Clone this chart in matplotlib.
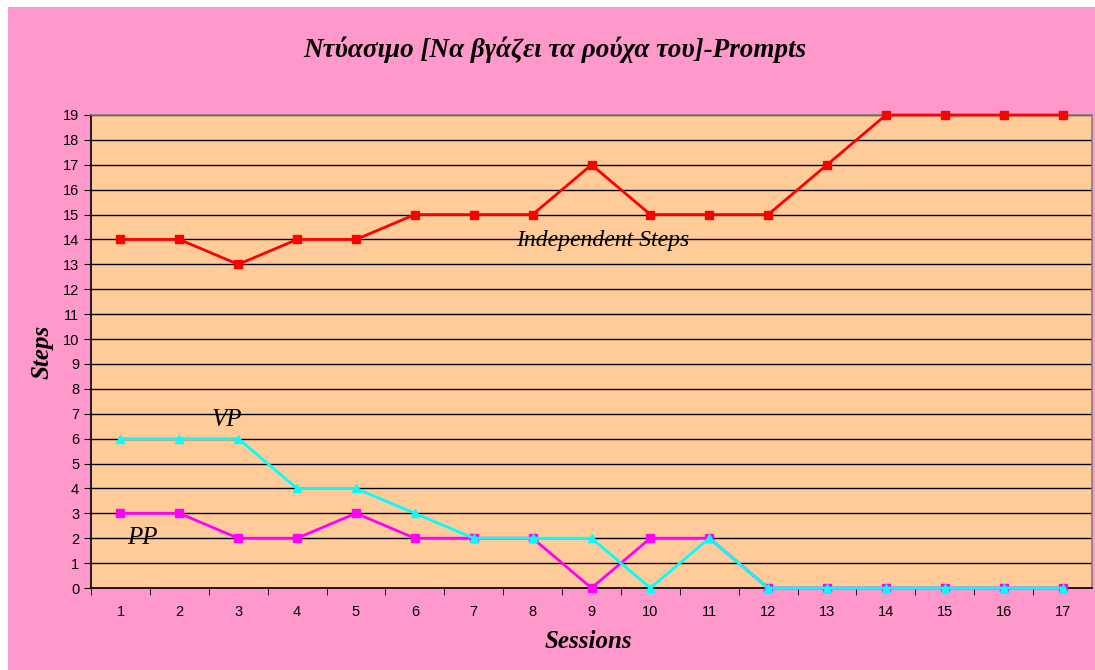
import matplotlib.pyplot as plt
from matplotlib.patches import Rectangle

sessions = list(range(1, 18))
independent = [14, 14, 13, 14, 14, 15, 15, 15, 17, 15, 15, 15, 17, 19, 19, 19, 19]
pp = [3, 3, 2, 2, 3, 2, 2, 2, 0, 2, 2, 0, 0, 0, 0, 0, 0]
vp = [6, 6, 6, 4, 4, 3, 2, 2, 2, 0, 2, 0, 0, 0, 0, 0, 0]

pink = '#FF99CC'
peach = '#FFCC99'

fig = plt.figure(figsize=(10.95, 6.70), dpi=100, facecolor='white')
fig.patches.append(Rectangle((8 / 1095, 0), 1, 1 - 7 / 670, transform=fig.transFigure,
                             facecolor=pink, edgecolor='none', zorder=-5))

ax = fig.add_axes([91 / 1095, 1 - 588 / 670, (1092 - 91) / 1095, (588 - 115) / 670])
ax.set_facecolor(peach)

ax.plot(sessions, independent, color='#FF0000', lw=2, marker='s', ms=6, zorder=3, clip_on=False)
ax.plot(sessions, pp, color='#FF00FF', lw=2, marker='s', ms=6, zorder=3, clip_on=False)
ax.plot(sessions, vp, color='#00FFFF', lw=2, marker='^', ms=6, zorder=4, clip_on=False)

ax.set_xlim(0.5, 17.5)
ax.set_ylim(0, 19)
ax.set_yticks(range(0, 20))
ax.set_xticks(sessions)
ax.set_xticks([i + 0.5 for i in range(0, 17)], minor=True)
ax.tick_params(axis='x', which='major', length=0, pad=12, labelsize=10.5)
ax.tick_params(axis='x', which='minor', length=5, direction='out', color='black')
ax.tick_params(axis='y', length=5, direction='out', labelsize=10.5)
for lab in ax.get_xticklabels() + ax.get_yticklabels():
    lab.set_fontfamily('Liberation Sans')

ax.grid(axis='y', color='black', lw=1)
ax.set_axisbelow(True)
ax.spines['left'].set_color('black')
ax.spines['bottom'].set_color('black')
ax.spines['top'].set_color('#808080')
ax.spines['right'].set_color('#808080')
for s in ax.spines.values():
    s.set_linewidth(1.2)

serif = 'Liberation Serif'
fig.text(555 / 1095, 1 - 50 / 670, 'Ντύασιμο [Να βγάζει τα ρούχα του]-Prompts',
         ha='center', va='center', fontsize=19.5, fontweight='bold', style='italic', family=serif)
fig.text(42 / 1095, 1 - 352 / 670, 'Steps', rotation=90, ha='center', va='center',
         fontsize=18, fontweight='bold', style='italic', family=serif)
fig.text(588 / 1095, 1 - 642 / 670, 'Sessions', ha='center', va='center',
         fontsize=18, fontweight='bold', style='italic', family=serif)

ax.text(9.19, 13.94, 'Independent Steps', ha='center', va='center', fontsize=17,
        style='italic', family=serif)
ax.text(2.81, 6.75, 'VP', ha='center', va='center', fontsize=18, style='italic', family=serif)
ax.text(1.38, 2.0, 'PP', ha='center', va='center', fontsize=18, style='italic', family=serif)

fig.savefig('out.png', dpi=100, facecolor=fig.get_facecolor())
